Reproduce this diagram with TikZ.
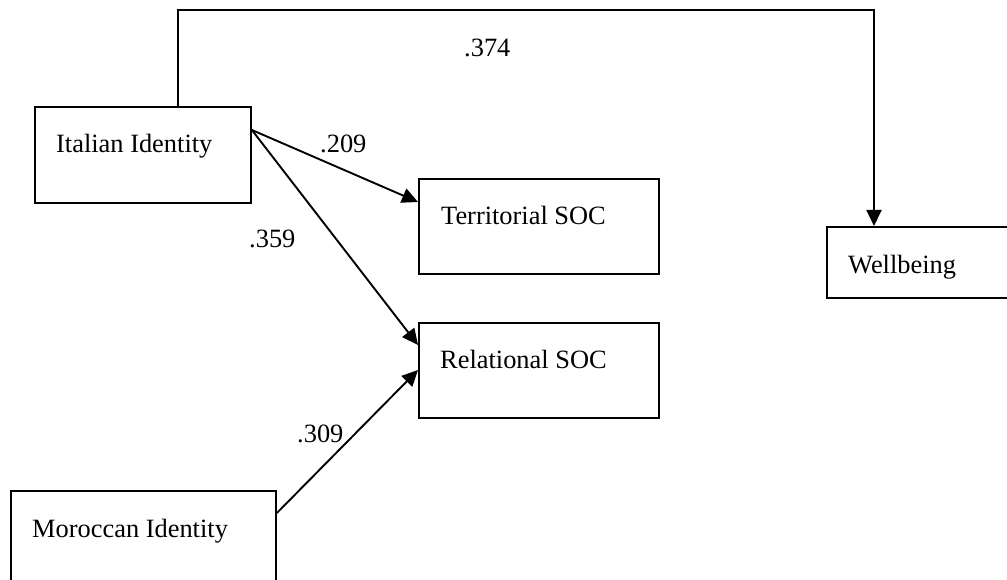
\documentclass[tikz,border=0pt]{standalone}
\usepackage{fontspec}
\setmainfont{Liberation Serif}
\usetikzlibrary{arrows.meta}
\begin{document}
\begin{tikzpicture}[x=1pt,y=-1pt,
  varbox/.style={draw, line width=1.9pt, rectangle, inner sep=0pt, anchor=north west},
  boxtext/.style={anchor=base west, inner sep=0pt, font=\fontsize{26.4}{30}\selectfont},
  coef/.style={anchor=base west, inner sep=0pt, font=\fontsize{26.4}{30}\selectfont},
  path/.style={line width=1.9pt, -{Triangle[length=16pt,width=15pt]}}]
  \useasboundingbox (0,0) rectangle (1007,580);
  \clip (0,0) rectangle (1007,580);

  % variable boxes
  \node[varbox, minimum width=216pt, minimum height=96pt] (ital) at (34,106) {};
  \node[varbox, minimum width=240pt, minimum height=95pt] (terr) at (418,178) {};
  \node[varbox, minimum width=240pt, minimum height=95pt] (rel)  at (418,322) {};
  \node[varbox, minimum width=200pt, minimum height=71pt] (well) at (826,226) {};
  \node[varbox, minimum width=265pt, minimum height=120pt] (moro) at (10,490) {};

  % box labels
  \node[boxtext] (italt) at ([xshift=22pt,yshift=-47pt]ital.north west) {Italian Identity};
  \node[boxtext] (terrt) at ([xshift=23pt,yshift=-47pt]terr.north west) {Territorial SOC};
  \node[boxtext] (relt)  at ([xshift=22pt,yshift=-46pt]rel.north west) {Relational SOC};
  \node[boxtext] (wellt) at ([xshift=22pt,yshift=-47pt]well.north west) {Wellbeing};
  \node[boxtext] (morot) at ([xshift=22pt,yshift=-47pt]moro.north west) {Moroccan Identity};

  % paths
  \coordinate (italout) at ([yshift=-24pt]ital.north east);
  \coordinate (italtop) at ([xshift=144pt]ital.north west);
  \coordinate (wellin)  at ([xshift=48pt]well.north west);
  \coordinate (moroout) at ([yshift=-23pt]moro.north east);
  \draw[path] (italtop) -- (italtop |- 0,10) -- (wellin |- 0,10) -- (wellin);
  \draw[path] (italout) -- ([yshift=-24pt]terr.north west);
  \draw[path] (italout) -- ([yshift=-23pt]rel.north west);
  \draw[path] (moroout) -- ([yshift=-48pt]rel.north west);

  % path coefficients
  \node[coef] (c374) at (464,57)  {.374};
  \node[coef] (c209) at (320,153) {.209};
  \node[coef] (c359) at (249,248) {.359};
  \node[coef] (c309) at (297,442) {.309};
\end{tikzpicture}
\end{document}
